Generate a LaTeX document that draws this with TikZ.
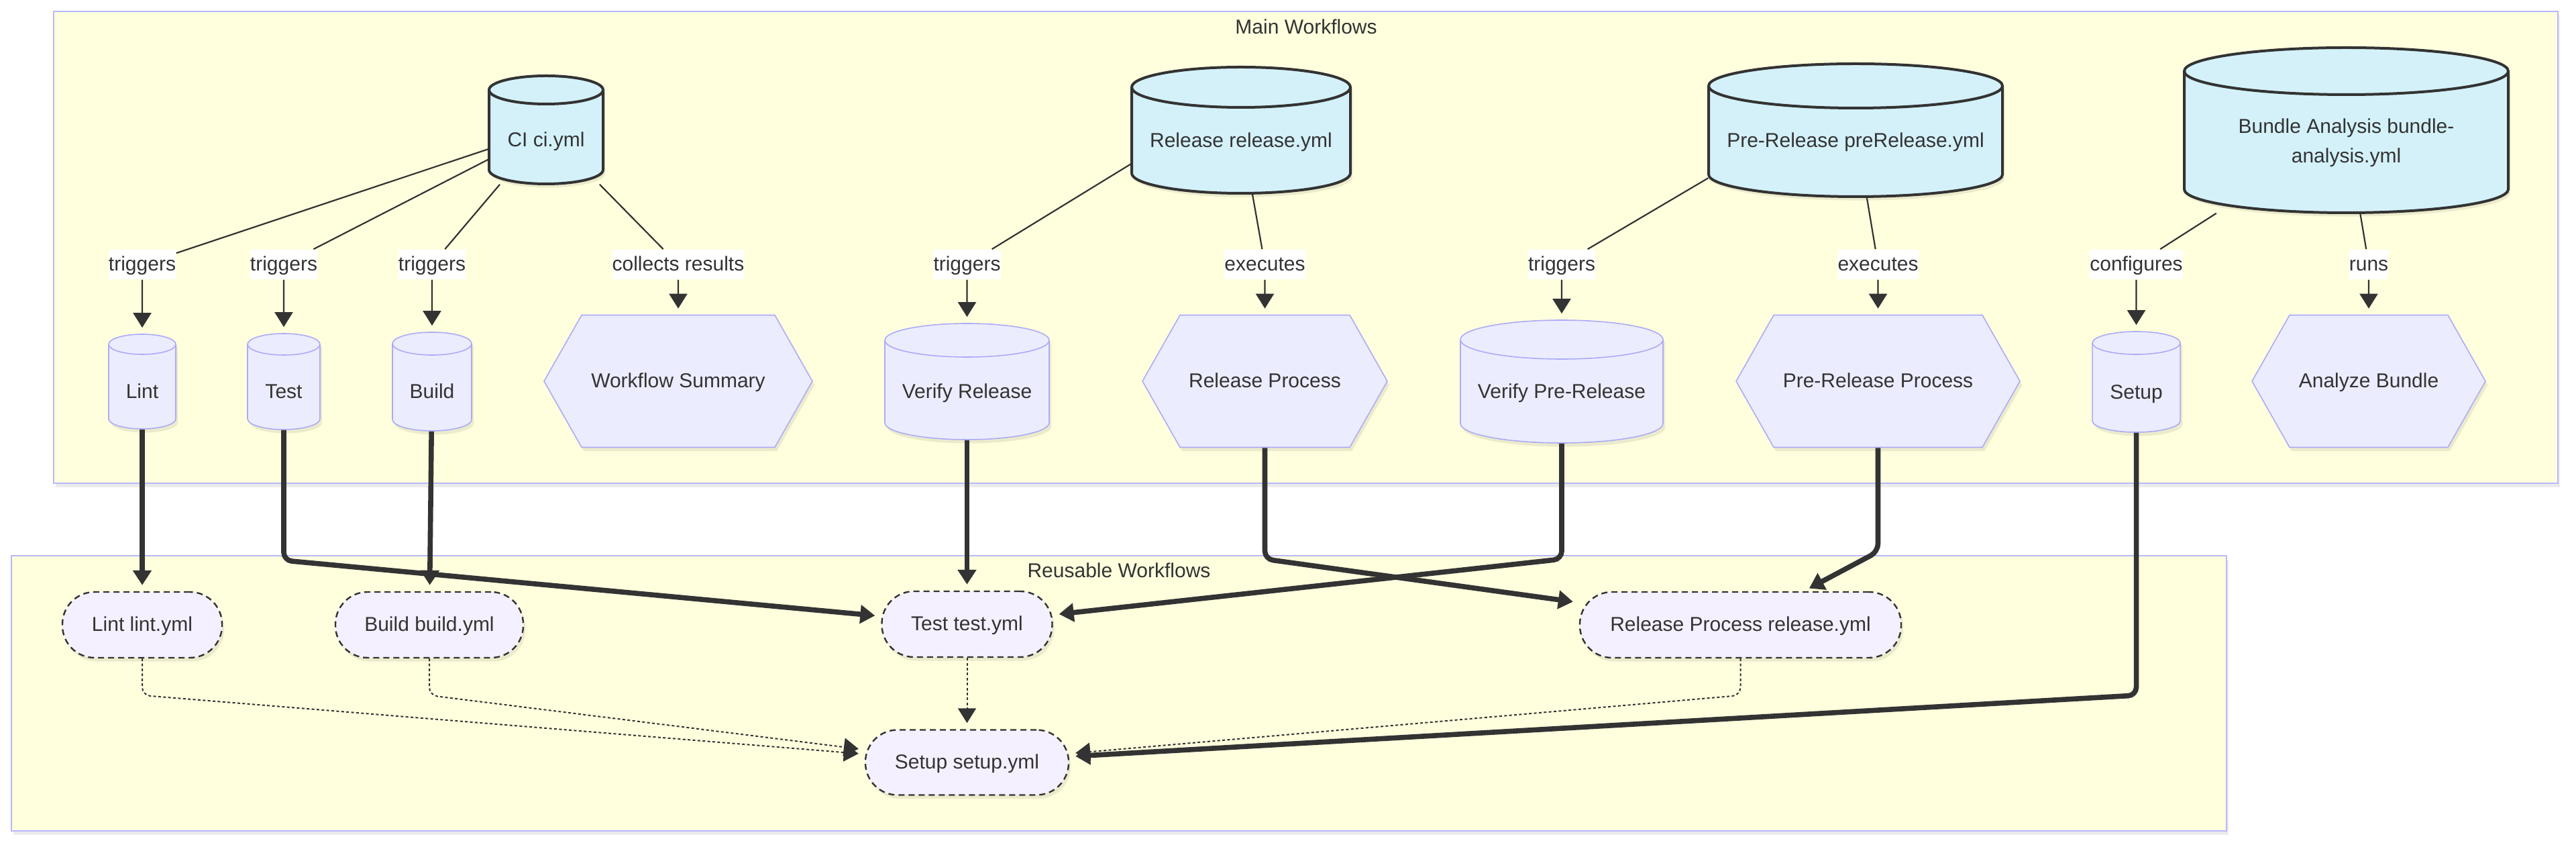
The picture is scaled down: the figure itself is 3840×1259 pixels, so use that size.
\documentclass[tikz,border=0pt]{standalone}
\usepackage{fontspec}
\setmainfont{Liberation Sans}
\usetikzlibrary{arrows.meta,shadows}
\definecolor{ink}{HTML}{333333}
\definecolor{clusterfill}{HTML}{FFFFDE}
\definecolor{clusterline}{HTML}{B8B8FF}
\definecolor{nodefill}{HTML}{ECECFF}
\definecolor{nodeline}{HTML}{ABABF8}
\definecolor{cyanfill}{HTML}{D4F1F9}
\definecolor{reufill}{HTML}{F5F0FF}
\def\unitpx{0.25pt}
\tikzset{
  softshadow/.style={drop shadow={fill=black,opacity=0.08,shadow xshift=0.8pt,shadow yshift=-1.4pt}},
  clusterbox/.style={fill=clusterfill,draw=clusterline,line width=0.6pt,softshadow},
  txtbase/.style={text=ink,font=\fontsize{7.5pt}{9pt}\selectfont,inner sep=0pt,text height=6.15pt,text depth=1.5pt},
  cylbox/.style={txtbase,rectangle,text height=14.2pt,text depth=1.5pt},
  cyltop/.style={fill=cyanfill,draw=ink,line width=1pt},
  cylbot/.style={fill=nodefill,draw=nodeline,line width=0.4pt},
  hexstyle/.style={fill=nodefill,draw=nodeline,line width=0.4pt,softshadow},
  hexbox/.style={txtbase,rectangle,minimum height=197*\unitpx},
  reunode/.style={txtbase,rectangle,rounded corners=12pt,draw=ink,fill=reufill,line width=0.6pt,dash pattern=on 2.25pt off 1.5pt,minimum height=98*\unitpx,softshadow},
  lbl/.style={txtbase,fill=white,minimum height=44*\unitpx},
  thinedge/.style={draw=ink,line width=0.55pt,-{Triangle[length=5.5pt,width=6.75pt]},shorten >=2.25pt},
  thickedge/.style={draw=ink,line width=1.9pt,-{Triangle[length=5.5pt,width=6.75pt]},shorten >=2.25pt,rounded corners=3pt},
  dotedge/.style={draw=ink,line width=0.5pt,dash pattern=on 1pt off 0.85pt,-{Triangle[length=5.5pt,width=6.75pt]},shorten >=2.25pt,rounded corners=3pt}
}
\newcommand\cylshape[6]{%
  \path[#1,softshadow] ({#2-#4/2},{#3-#5/2+#6}) -- ({#2-#4/2},{#3+#5/2-#6})
    arc[start angle=180,end angle=360,x radius=#4/2*\unitpx,y radius=#6*\unitpx]
    -- ({#2+#4/2},{#3-#5/2+#6})
    arc[start angle=0,end angle=180,x radius=#4/2*\unitpx,y radius=#6*\unitpx] -- cycle;
  \path[#1,fill=none] ({#2-#4/2},{#3-#5/2+#6})
    arc[start angle=180,end angle=360,x radius=#4/2*\unitpx,y radius=#6*\unitpx];
}
\newcommand\hexshape[4]{%
  \path[hexstyle] ({#1-#3/2},#2) -- ({#1-#3/2+56},{#2-#4/2}) -- ({#1+#3/2-56},{#2-#4/2})
    -- ({#1+#3/2},#2) -- ({#1+#3/2-56},{#2+#4/2}) -- ({#1-#3/2+56},{#2+#4/2}) -- cycle;
}
\begin{document}
\begin{tikzpicture}[x=0.25pt,y=-0.25pt]
\useasboundingbox (0,0) rectangle (3840,1259);
\fill[white] (0,0) rectangle (3840,1259);
% clusters
\path[clusterbox] (80,17) rectangle (3813,720);
\path[clusterbox] (17,828) rectangle (3319,1238);
\node[txtbase] (mainT) at (1947,41) {Main Workflows};
\node[txtbase] (reuT) at (1668,851) {Reusable Workflows};
% top cylinders
\cylshape{cyltop}{814}{193.5}{170}{161}{21}
\node[cylbox,minimum width=170*\unitpx,minimum height=161*\unitpx] (ci) at (814,193.5) {CI ci.yml};
\cylshape{cyltop}{1850}{194}{326}{188}{30}
\node[cylbox,minimum width=326*\unitpx,minimum height=188*\unitpx] (rel) at (1850,194) {Release release.yml};
\cylshape{cyltop}{2766}{194}{438}{198}{33}
\node[cylbox,minimum width=438*\unitpx,minimum height=198*\unitpx] (pre) at (2766,194) {Pre-Release preRelease.yml};
\cylshape{cyltop}{3497.5}{194}{483}{246}{35}
\node[cylbox,text height=26pt,minimum width=483*\unitpx,minimum height=246*\unitpx] (bun) at (3497.5,194) {\begin{tabular}[b]{@{}c@{}}Bundle Analysis bundle-\\[2.1pt]analysis.yml\end{tabular}};
% lower cylinders
\cylshape{cylbot}{212}{568.5}{100}{141}{15}
\node[cylbox,minimum width=100*\unitpx,minimum height=141*\unitpx] (lintc) at (212,568.5) {Lint};
\cylshape{cylbot}{423}{568.5}{108}{143}{16}
\node[cylbox,minimum width=108*\unitpx,minimum height=143*\unitpx] (testc) at (423,568.5) {Test};
\cylshape{cylbot}{644}{568.5}{118}{147}{17}
\node[cylbox,minimum width=118*\unitpx,minimum height=147*\unitpx] (buildc) at (644,568.5) {Build};
\cylshape{cylbot}{1441.5}{568.5}{245}{173}{25}
\node[cylbox,minimum width=245*\unitpx,minimum height=173*\unitpx] (vrel) at (1441.5,568.5) {Verify Release};
\cylshape{cylbot}{2328}{568.5}{302}{183}{29}
\node[cylbox,minimum width=302*\unitpx,minimum height=183*\unitpx] (vpre) at (2328,568.5) {Verify Pre-Release};
\cylshape{cylbot}{3184.5}{569}{131}{150}{17}
\node[cylbox,minimum width=131*\unitpx,minimum height=150*\unitpx] (setc) at (3184.5,569) {Setup};
% hexagons
\hexshape{1011}{568}{400}{197}
\node[hexbox,minimum width=400*\unitpx] (wsum) at (1011,568) {Workflow Summary};
\hexshape{1885.5}{568}{365}{197}
\node[hexbox,minimum width=365*\unitpx] (relp) at (1885.5,568) {Release Process};
\hexshape{2799.5}{568}{423}{197}
\node[hexbox,minimum width=423*\unitpx] (prep) at (2799.5,568) {Pre-Release Process};
\hexshape{3531}{568}{348}{197}
\node[hexbox,minimum width=348*\unitpx] (anb) at (3531,568) {Analyze Bundle};
% reusable workflows
\node[reunode,minimum width=238*\unitpx] (lintr) at (212,931) {Lint lint.yml};
\node[reunode,minimum width=280*\unitpx] (buildr) at (640,931) {Build build.yml};
\node[reunode,minimum width=254*\unitpx] (testr) at (1441.5,930) {Test test.yml};
\node[reunode,minimum width=479*\unitpx] (relr) at (2594.5,931) {Release Process release.yml};
\node[reunode,minimum width=303*\unitpx,minimum height=97*\unitpx] (setr) at (1441.5,1136) {Setup setup.yml};
% edge labels
\node[lbl] (lab1) at (212,394) {triggers};
\node[lbl] (lab2) at (423,394) {triggers};
\node[lbl] (lab3) at (644,394) {triggers};
\node[lbl] (lab4) at (1011,394) {collects results};
\node[lbl] (lab5) at (1441.5,394) {triggers};
\node[lbl] (lab6) at (1885.5,394) {executes};
\node[lbl] (lab7) at (2328,394) {triggers};
\node[lbl] (lab8) at (2799.5,394) {executes};
\node[lbl] (lab9) at (3184.5,394) {configures};
\node[lbl] (lab10) at (3531,394) {runs};
% thin edges
\draw[thinedge] (ci) -- (lab1) -- (lintc);
\draw[thinedge] (ci) -- (lab2) -- (testc);
\draw[thinedge] (ci) -- (lab3) -- (buildc);
\draw[thinedge] (ci) -- (lab4) -- (wsum);
\draw[thinedge] (rel.197) -- (lab5) -- (vrel);
\draw[thinedge] (rel) -- (lab6) -- (relp);
\draw[thinedge] (pre.198) -- (lab7) -- (vpre);
\draw[thinedge] (pre) -- (lab8) -- (prep);
\draw[thinedge] (bun) -- (lab9) -- (setc);
\draw[thinedge] (bun) -- (lab10) -- (anb);
% bend points
\coordinate (bTest) at (423,835);
\coordinate (bVpre) at (2328,833);
\coordinate (bRelp) at (1885.5,833);
\coordinate (bPrep) at (2799.5,822);
\coordinate (bSetc) at (3184.5,1036);
\coordinate (bLintr) at (212,1036);
\coordinate (bBuildr) at (640,1036);
\coordinate (bRelr) at (2594.5,1036);
% dotted edges
\draw[dotedge] (lintr) -- (bLintr) -- (setr);
\draw[dotedge] (buildr) -- (bBuildr) -- (setr);
\draw[dotedge] (testr) -- (setr);
\draw[dotedge] (relr) -- (bRelr) -- (setr);
% thick edges
\draw[thickedge] (lintc) -- (lintr);
\draw[thickedge] (buildc) -- (buildr);
\draw[thickedge] (vrel) -- (testr);
\draw[thickedge] (testc) -- (bTest) -- (testr);
\draw[thickedge] (vpre) -- (bVpre) -- (testr);
\draw[thickedge] (relp) -- (bRelp) -- (relr);
\draw[thickedge] (prep) -- (bPrep) -- (relr);
\draw[thickedge] (setc) -- (bSetc) -- (setr);
\end{tikzpicture}
\end{document}
